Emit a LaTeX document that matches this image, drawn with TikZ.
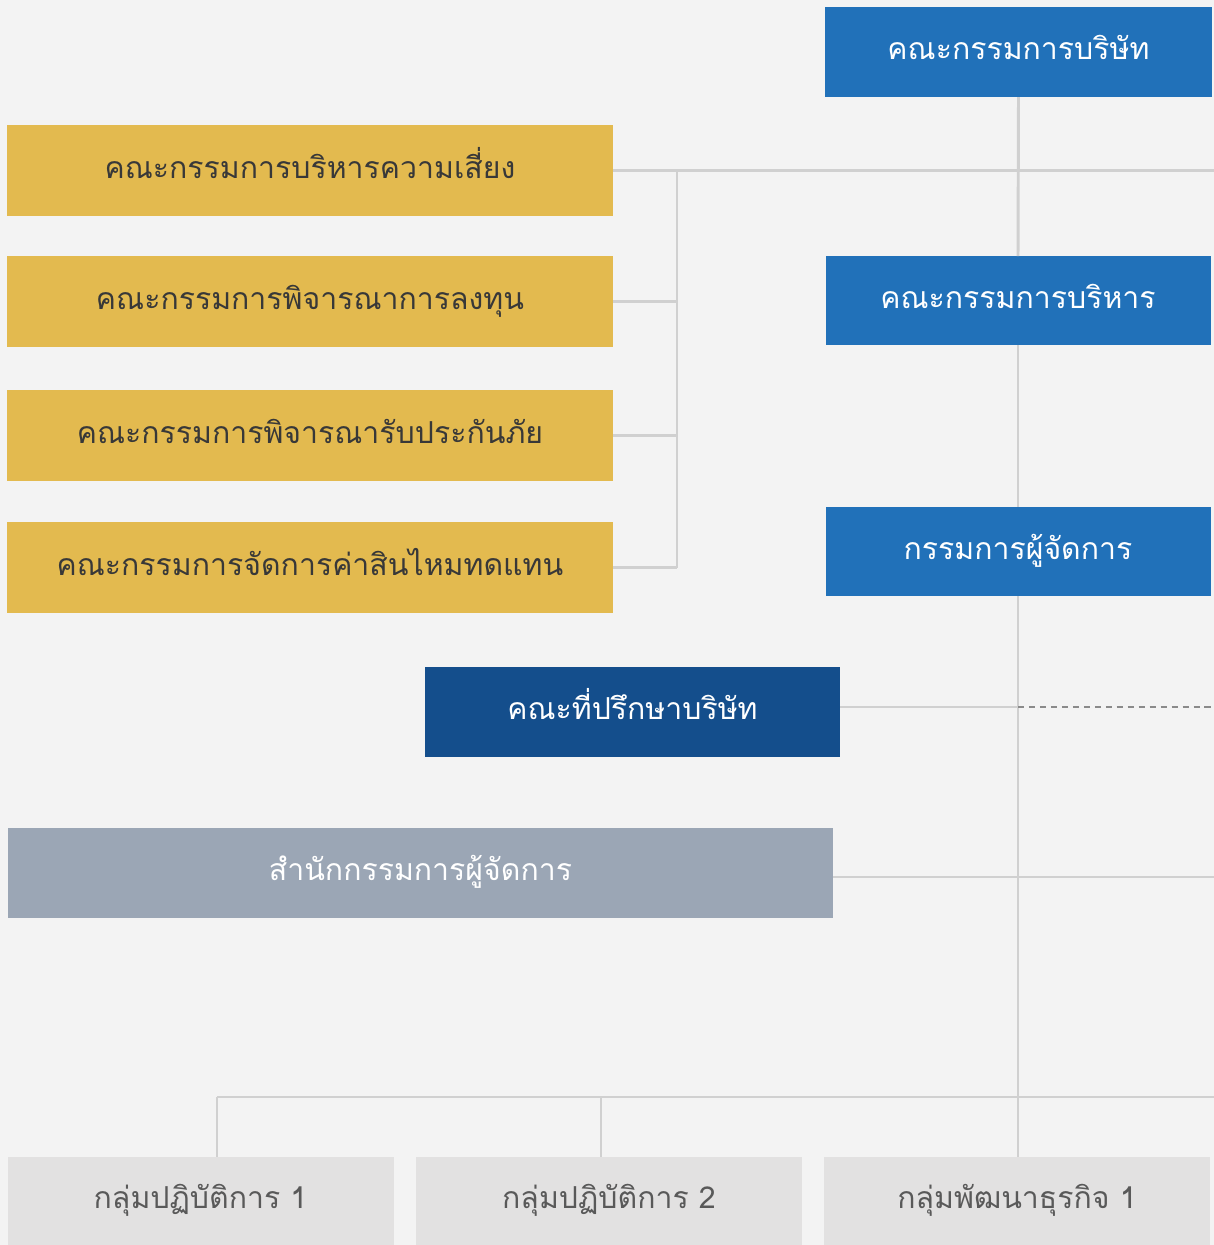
\documentclass[tikz,border=0pt]{standalone}
\usepackage{fontspec}
\usepackage{tikz}
\newfontfamily\thaifont[Script=Thai]{Loma}
\newcommand{\unitpx}{0.025cm}
\definecolor{bgpage}{HTML}{F3F3F3}
\definecolor{boardblue}{HTML}{2171B9}
\definecolor{advblue}{HTML}{144E8C}
\definecolor{commyellow}{HTML}{E3BA4F}
\definecolor{officegray}{HTML}{9BA6B5}
\definecolor{groupgray}{HTML}{E2E1E1}
\definecolor{linegray}{HTML}{D0D0D0}
\definecolor{dashgray}{HTML}{8A8A8A}
\tikzset{
  box/.style={rectangle,inner sep=0pt,outer sep=0pt,minimum height=90*\unitpx,
    text height=1.1em,text depth=0em,
    font=\thaifont\fontsize{21.5}{26}\selectfont},
  bluebox/.style={box,fill=boardblue,text=white,minimum width=385*\unitpx},
  yellowbox/.style={box,fill=commyellow,text=black!78,minimum width=606*\unitpx,minimum height=91*\unitpx},
  groupbox/.style={box,fill=groupgray,text=black!65,minimum width=386*\unitpx,minimum height=88*\unitpx},
  conn/.style={draw=linegray,line width=2.1pt},
  dashconn/.style={draw=dashgray,line width=0.9pt,dash pattern=on 4.3pt off 3.5pt}
}
\begin{document}
\begin{tikzpicture}[x=\unitpx,y=-\unitpx]
    \fill[bgpage] (0,0) rectangle (1214,1245);
    \useasboundingbox (0,0) rectangle (1214,1245);
    \coordinate (rgt) at (1214,0);
    \coordinate (br) at (677,0);
    \coordinate (bus1) at (217,1097);
    \coordinate (bus2) at (601,1097);
    \node[bluebox,minimum width=387*\unitpx] (board) at (1018.5,52) {คณะกรรมการบริษัท};
    \node[bluebox,minimum height=89*\unitpx] (exec) at (1018,300.5) {คณะกรรมการบริหาร};
    \node[bluebox,minimum height=89*\unitpx] (md) at (1018,551.5) {กรรมการผู้จัดการ};
    \node[yellowbox] (risk) at (310,170.5) {คณะกรรมการบริหารความเสี่ยง};
    \node[yellowbox] (invest) at (310,301.5) {คณะกรรมการพิจารณาการลงทุน};
    \node[yellowbox] (uw) at (310,435.5) {คณะกรรมการพิจารณารับประกันภัย};
    \node[yellowbox] (claim) at (310,567.5) {คณะกรรมการจัดการค่าสินไหมทดแทน};
    \node[box,fill=advblue,text=white,minimum width=415*\unitpx] (adv) at (632.5,712) {คณะที่ปรึกษาบริษัท};
    \node[box,fill=officegray,text=white,minimum width=825*\unitpx] (office) at (420.5,873) {สำนักกรรมการผู้จัดการ};
    \node[groupbox] (grp1) at (200.5,1201) {กลุ่มปฏิบัติการ 1};
    \node[groupbox] (grp2) at (609,1201) {กลุ่มปฏิบัติการ 2};
    \node[groupbox] (grp3) at (1017,1201) {กลุ่มพัฒนาธุรกิจ 1};
    \draw[conn] (board.south) -- (exec.north);
    \draw[conn] (exec.south) -- (md.north);
    \draw[conn] (md.south) -- (md.south |- grp3.north);
    \draw[conn] (risk.east) -- (risk.east -| rgt);
    \draw[conn] (br |- risk.east) -- (br |- claim.east);
    \draw[conn] (invest.east) -- (invest.east -| br);
    \draw[conn] (uw.east) -- (uw.east -| br);
    \draw[conn] (claim.east) -- (claim.east -| br);
    \draw[conn] ([yshift=5*\unitpx]adv.east) -- ([yshift=5*\unitpx]adv.east -| md.south);
    \draw[dashconn] ([yshift=5*\unitpx]adv.east -| md.south) -- ([yshift=5*\unitpx]adv.east -| rgt);
    \draw[conn] ([yshift=-4*\unitpx]office.east) -- ([yshift=-4*\unitpx]office.east -| rgt);
    \draw[conn] (bus1) -- (bus1 -| rgt);
    \draw[conn] (bus1) -- (bus1 |- grp1.north);
    \draw[conn] (bus2) -- (bus2 |- grp2.north);
\end{tikzpicture}
\end{document}
